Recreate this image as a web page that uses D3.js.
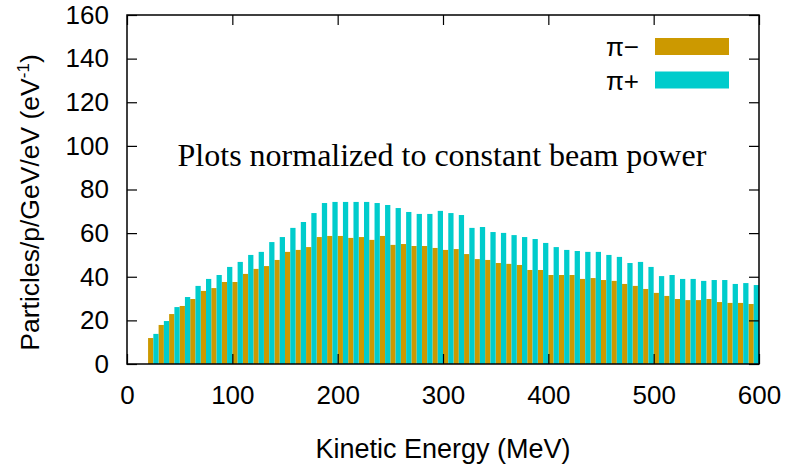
<!DOCTYPE html>
<html>
<head>
<meta charset="utf-8">
<script src="https://cdn.jsdelivr.net/npm/d3@7"></script>
<style>
  body { margin: 0; background: #fff; }
  svg { display: block; }
  .tick-label { font-family: "Liberation Sans", Arial, sans-serif; font-size: 26px; fill: #000; }
</style>
</head>
<body>
<div class="chart-container"></div>
<script>
// bin start energies (MeV), each bin 10 MeV wide: pi- in first half, pi+ in second
var binStart = [20, 30, 40, 50, 60, 70, 80, 90, 100, 110, 120, 130, 140, 150, 160, 170, 180, 190, 200,
  210, 220, 230, 240, 250, 260, 270, 280, 290, 300, 310, 320, 330, 340, 350, 360, 370, 380, 390, 400,
  410, 420, 430, 440, 450, 460, 470, 480, 490, 500, 510, 520, 530, 540, 550, 560, 570, 580, 590];

var piMinus = [11.9, 17.9, 22.9, 26.6, 29.8, 33.5, 34.8, 37.6, 37.6, 41.3, 43.6, 44.9, 47.7, 51.4, 52.3, 53.6, 58.2, 58.7, 58.7,
  57.8, 58.2, 56.9, 58.7, 54.6, 55.0, 54.1, 54.1, 53.2, 52.3, 52.7, 50.4, 48.1, 47.7, 46.3, 45.9, 45.4, 43.1, 43.1, 40.8,
  40.8, 40.8, 39.0, 39.4, 38.5, 38.1, 36.7, 35.8, 34.4, 32.6, 31.2, 29.8, 29.3, 29.3, 29.8, 28.4, 28.0, 28.0, 27.5];

var piPlus = [13.8, 19.7, 26.1, 30.7, 35.8, 39.0, 40.8, 44.5, 46.8, 50.0, 51.4, 55.9, 58.2, 62.4, 65.1, 69.2, 73.8, 74.3, 74.3,
  74.3, 74.3, 73.8, 72.9, 71.5, 69.7, 68.8, 68.8, 70.2, 69.2, 68.3, 62.4, 62.8, 60.5, 60.1, 59.1, 58.2, 57.3, 55.5, 53.6,
  52.3, 51.8, 51.4, 51.4, 50.0, 49.1, 46.3, 46.8, 44.5, 40.3, 40.8, 39.0, 39.0, 38.1, 38.5, 38.5, 36.7, 37.1, 36.2];

var xTicks = [0, 100, 200, 300, 400, 500, 600];
var yTicks = [0, 20, 40, 60, 80, 100, 120, 140, 160];

var seriesNames = ["π−", "π+"];
var seriesColors = ["#cc9900", "#00cccc"];

var W = 786, H = 466;
var margin = {top: 15, right: 27, bottom: 102, left: 127},
    width = W - margin.left - margin.right,
    height = H - margin.top - margin.bottom;

var x = d3.scaleLinear().domain([0, 600]).range([0, width]);
var y = d3.scaleLinear().domain([0, 160]).range([height, 0]);

var svg = d3.select('.chart-container').append("svg")
    .attr("width", W)
    .attr("height", H);

var g = svg.append("g")
    .attr("transform", "translate(" + margin.left + "," + margin.top + ")");

var data = binStart.map(function (e, i) { return {e: e, m: piMinus[i], p: piPlus[i]}; });

// pi- bars (first half of each bin)
g.selectAll(".bar-m")
    .data(data)
  .enter().append("rect")
    .attr("class", "bar-m")
    .attr("x", function (d) { return x(d.e); })
    .attr("width", function (d) { return x(d.e + 5) - x(d.e); })
    .attr("y", function (d) { return y(d.m); })
    .attr("height", function (d) { return y(0) - y(d.m); })
    .attr("fill", seriesColors[0]);

// pi+ bars (second half)
g.selectAll(".bar-p")
    .data(data)
  .enter().append("rect")
    .attr("class", "bar-p")
    .attr("x", function (d) { return x(d.e + 5); })
    .attr("width", function (d) { return x(d.e + 10) - x(d.e + 5); })
    .attr("y", function (d) { return y(d.p); })
    .attr("height", function (d) { return y(0) - y(d.p); })
    .attr("fill", seriesColors[1]);

// axes: labels outside, ticks inward, mirrored on top/right
var yAxis = g.append("g")
    .call(d3.axisLeft(y).tickValues(yTicks).tickSizeInner(-10).tickSizeOuter(0).tickPadding(18));
var xAxis = g.append("g")
    .attr("transform", "translate(0," + height + ")")
    .call(d3.axisBottom(x).tickValues(xTicks).tickSizeInner(-10).tickSizeOuter(0).tickPadding(22));

g.append("g")
    .attr("transform", "translate(" + width + ",0)")
    .call(d3.axisRight(y).tickValues(yTicks).tickSizeInner(-10).tickSizeOuter(0).tickFormat(""));
g.append("g")
    .call(d3.axisTop(x).tickValues(xTicks).tickSizeInner(-10).tickSizeOuter(0).tickFormat(""));

g.selectAll(".domain").remove();
g.selectAll(".tick line").attr("stroke", "#000").attr("stroke-width", 1.2);
yAxis.selectAll("text").attr("class", "tick-label");
xAxis.selectAll("text").attr("class", "tick-label").attr("dy", "0.71em");

// frame
g.append("rect")
    .attr("width", width)
    .attr("height", height)
    .attr("fill", "none")
    .attr("stroke", "#000")
    .attr("stroke-width", 1.5);

// axis titles
svg.append("text")
    .attr("transform", "translate(39," + (margin.top + height / 2 + 13) + ") rotate(-90)")
    .attr("text-anchor", "middle")
    .style("font-family", "Liberation Sans, Arial, sans-serif")
    .style("font-size", "26.5px")
    .html('Particles/p/GeV/eV (eV<tspan dy="-10" font-size="17">-1</tspan><tspan dy="10">)</tspan>');

svg.append("text")
    .attr("x", margin.left + width / 2)
    .attr("y", 458)
    .attr("text-anchor", "middle")
    .style("font-family", "Liberation Sans, Arial, sans-serif")
    .style("font-size", "27px")
    .text("Kinetic Energy (MeV)");

// annotation
g.append("text")
    .attr("x", x(48))
    .attr("y", y(91))
    .style("font-family", "Liberation Serif, Times New Roman, serif")
    .style("font-size", "32px")
    .text("Plots normalized to constant beam power");

// legend
var legend = svg.append("g");
seriesNames.forEach(function (name, i) {
  var ly = 38 + i * 33.5;
  legend.append("rect")
    .attr("x", 655).attr("y", ly)
    .attr("width", 74).attr("height", 17)
    .attr("fill", seriesColors[i]);
  legend.append("text")
    .attr("x", 639).attr("y", ly + 18)
    .attr("text-anchor", "end")
    .style("font-family", "Liberation Sans, Arial, sans-serif")
    .style("font-size", "26px")
    .text(name);
});
</script>
</body>
</html>
